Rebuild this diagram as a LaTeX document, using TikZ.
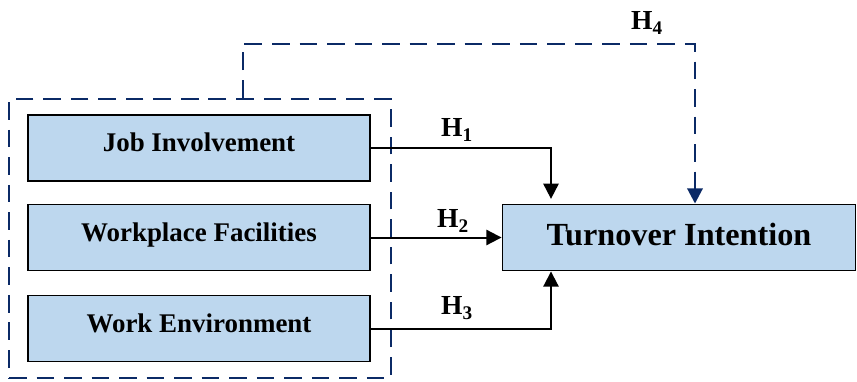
\documentclass[tikz,border=0pt]{standalone}
\usepackage{fontspec}
\setmainfont{Liberation Serif}
\usetikzlibrary{arrows.meta}
\definecolor{boxblue}{HTML}{BDD7EE}
\definecolor{navy}{HTML}{0B2A66}
\def\px{0.03cm}
\begin{document}
\begin{tikzpicture}[x=\px,y=-\px,
    factor/.style={draw=black, line width=1.6pt, fill=boxblue, inner sep=0pt,
      minimum width=342*\px, minimum height=66*\px,
      text height=18pt, text depth=11.3pt,
      font=\bfseries\fontsize{23}{25}\selectfont},
    outcome/.style={factor, minimum width=353*\px,
      text height=20pt, text depth=6.9pt,
      font=\bfseries\fontsize{27.5}{30}\selectfont},
    group/.style={draw=navy, line width=2.4pt, dash pattern=on 15pt off 8.5pt,
      minimum width=382*\px, minimum height=279*\px, inner sep=0pt},
    hyp/.style={font=\bfseries\fontsize{23.5}{25}\selectfont, inner sep=0pt},
    link/.style={line width=1.7pt, -{Triangle[width=13pt,length=13pt]}},
    grouplink/.style={draw=navy, line width=2.4pt, dash pattern=on 15pt off 8.5pt,
      -{Triangle[width=13pt,length=13pt,fill=navy]}}]
    \useasboundingbox (0,0) rectangle (857,381);

    % mediating block and the three factors
    \node[group] (grp) at (200,238.5) {};
    \node[factor] (job) at (199,148) {Job Involvement};
    \node[factor] (fac) at (199,237.5) {Workplace Facilities};
    \node[factor] (env) at (199,328.5) {Work Environment};

    \node[outcome] (turn) at (679,237.5) {Turnover Intention};

    % turning points of the links
    \coordinate (h1x) at (551,0);
    \coordinate (h4s) at (243,0);
    \coordinate (h4top) at (695,44);

    \draw[link,shorten >=4pt] (job.east) -| (turn.north -| h1x);
    \draw[link] (fac.east) -- (turn.west);
    \draw[link] (env.east) -| (turn.south -| h1x);
    \draw[grouplink] (grp.north -| h4s) |- (h4top) -- (turn.north -| h4top);

    \node[hyp] (h1) at (457,130) {H\textsubscript{1}};
    \node[hyp] (h2) at (453,221) {H\textsubscript{2}};
    \node[hyp] (h3) at (457,308) {H\textsubscript{3}};
    \node[hyp] (h4) at (647,23) {H\textsubscript{4}};
\end{tikzpicture}
\end{document}
